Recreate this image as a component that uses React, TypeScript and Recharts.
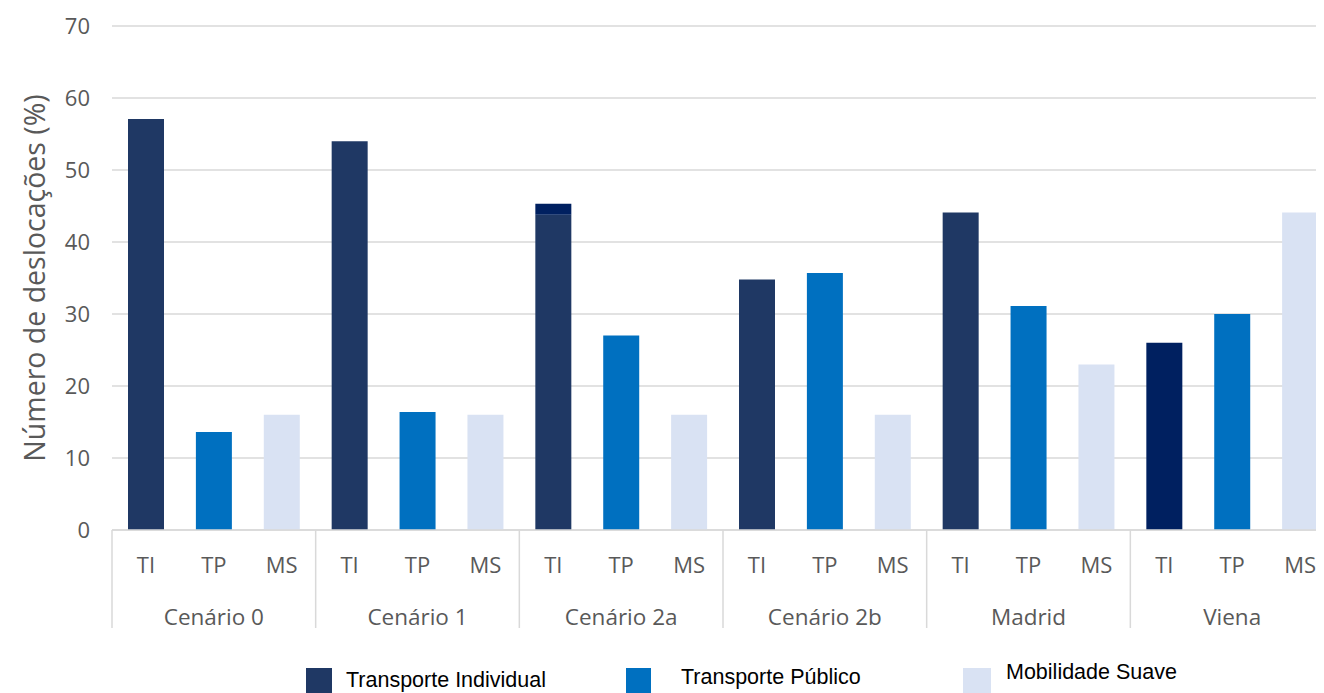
import React from "react";
import { BarChart, Bar, XAxis, YAxis, CartesianGrid, Cell } from "recharts";

const groups = ["Cenário 0", "Cenário 1", "Cenário 2a", "Cenário 2b", "Madrid", "Viena"];
const subs = ["TI", "TP", "MS"];
const tiValues = [57.1, 54.0, 43.8, 34.8, 44.1, 26.0];
const tiExtra = [0, 0, 1.5, 0, 0, 0];
const tpValues = [13.6, 16.4, 27.0, 35.7, 31.1, 30.0];
const msValues = [16.0, 16.0, 16.0, 16.0, 23.0, 44.1];
const yTicks = [0, 10, 20, 30, 40, 50, 60, 70];
const legendLabels = ["Transporte Individual", "Transporte Público", "Mobilidade Suave"];

const C_TI = "#1F3864";
const C_TI_DARK = "#002060";
const C_TP = "#0070C0";
const C_MS = "#D9E2F3";
const GRID = "#D9D9D9";
const TEXT = "#595959";
const FONT = "'Open Sans', sans-serif";

const data = groups.flatMap((g, gi) =>
  subs.map((s, si) => ({
    key: `${g}|${s}`,
    sub: s,
    group: g,
    gi,
    TI: si === 0 ? tiValues[gi] : 0,
    TIx: si === 0 ? tiExtra[gi] : 0,
    TP: si === 1 ? tpValues[gi] : 0,
    MS: si === 2 ? msValues[gi] : 0,
  }))
);

const CHART_W = 1330;
const CHART_H = 685;
const MARGIN = { top: 18, right: 4, bottom: 53, left: 0 };
const Y_W = 104;
const X_H = CHART_H - MARGIN.top - MARGIN.bottom - 504;
const BAND = (CHART_W - MARGIN.left - MARGIN.right - Y_W) / data.length;

const XTick = (props: any) => {
  const { x, y, payload, index } = props;
  const i = index ?? payload.index;
  const gi = Math.floor(i / 3);
  const sub = data[i]?.sub ?? "";
  return (
    <g>
      <text x={x} y={y + 34} textAnchor="middle" dominantBaseline="central" fill={TEXT} fontSize={22} fontFamily={FONT}>
        {sub}
      </text>
      {i % 3 === 1 && (
        <text x={x} y={y + 86} textAnchor="middle" dominantBaseline="central" fill={TEXT} fontSize={22.5} fontFamily={FONT}>
          {groups[gi]}
        </text>
      )}
      {i % 3 === 0 && <line x1={x - BAND / 2} x2={x - BAND / 2} y1={y} y2={y + 98} stroke={GRID} strokeWidth={1.5} />}
      {i === data.length - 1 && <line x1={x + BAND / 2} x2={x + BAND / 2} y1={y} y2={y + 98} stroke={GRID} strokeWidth={1.5} />}
    </g>
  );
};

const YTitle = (props: any) => {
  const vb = props.viewBox || { x: 0, y: 18, width: 104, height: 504 };
  const cx = vb.x + 26;
  const cy = vb.y + vb.height / 2;
  return (
    <text x={cx} y={cy} transform={`rotate(-90 ${cx} ${cy})`} textAnchor="middle" dominantBaseline="central" fill={TEXT} fontSize={28.5} fontFamily={FONT}>
      Número de deslocações (%)
    </text>
  );
};

const legendColors = [C_TI, C_TP, C_MS];
const legendPos = [
  { sq: 298, sqw: 26, tx: 338, ty: 660 },
  { sq: 618, sqw: 25, tx: 673, ty: 657 },
  { sq: 955, sqw: 28, tx: 998, ty: 652 },
];

export default function App() {
  return (
    <div style={{ position: "relative", width: 1316, height: 685, overflow: "hidden", background: "#fff" }}>
      <BarChart width={CHART_W} height={CHART_H} data={data} margin={MARGIN} barSize={36}>
        <CartesianGrid vertical={false} stroke={GRID} strokeWidth={1.5} />
        <XAxis
          dataKey="key"
          height={X_H}
          axisLine={{ stroke: GRID, strokeWidth: 1.5 }}
          tickLine={false}
          tickSize={0}
          tickMargin={0}
          interval={0}
          tick={<XTick />}
        />
        <YAxis
          width={Y_W}
          domain={[0, 70]}
          ticks={yTicks}
          axisLine={false}
          tickLine={false}
          tickSize={0}
          tickMargin={22}
          tick={{ fill: TEXT, fontSize: 22, fontFamily: FONT }}
          label={<YTitle />}
        />
        <Bar dataKey="TI" stackId="a" fill={C_TI} isAnimationActive={false}>
          {data.map((d, i) => (
            <Cell key={i} fill={d.group === "Viena" ? C_TI_DARK : C_TI} />
          ))}
        </Bar>
        <Bar dataKey="TIx" stackId="a" fill={C_TI_DARK} isAnimationActive={false} />
        <Bar dataKey="TP" stackId="a" fill={C_TP} isAnimationActive={false} />
        <Bar dataKey="MS" stackId="a" fill={C_MS} isAnimationActive={false} />
      </BarChart>
      {legendLabels.map((l, i) => (
        <React.Fragment key={l}>
          <div
            style={{
              position: "absolute",
              left: legendPos[i].sq,
              top: 660,
              width: legendPos[i].sqw,
              height: 30,
              background: legendColors[i],
            }}
          />
          <div
            style={{
              position: "absolute",
              left: legendPos[i].tx,
              top: legendPos[i].ty,
              fontFamily: "'Liberation Sans', Arial, sans-serif",
              fontSize: 21.5,
              color: "#000",
              whiteSpace: "nowrap",
              lineHeight: "24px",
            }}
          >
            {l}
          </div>
        </React.Fragment>
      ))}
    </div>
  );
}
